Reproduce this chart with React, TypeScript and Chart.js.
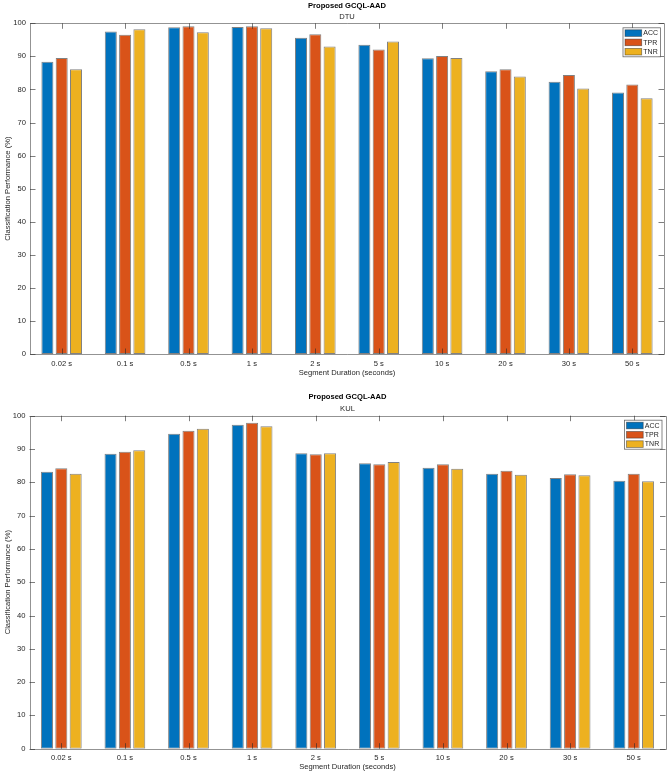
import React, { useEffect, useRef } from 'react';
import { Chart, registerables } from 'chart.js';

Chart.register(...registerables);

// ---------- data ----------
const categories = ['0.02 s', '0.1 s', '0.5 s', '1 s', '2 s', '5 s', '10 s', '20 s', '30 s', '50 s'];
const seriesNames = ['ACC', 'TPR', 'TNR'];

const dtuACC = [88.4, 97.5, 98.8, 98.9, 95.6, 93.5, 89.4, 85.5, 82.3, 79.1];
const dtuTPR = [89.5, 96.5, 99.1, 99.1, 96.7, 92.1, 90.1, 86.1, 84.4, 81.5];
const dtuTNR = [86.1, 98.2, 97.3, 98.5, 93.0, 94.5, 89.5, 83.9, 80.3, 77.3];

const kulACC = [83.2, 88.6, 94.6, 97.3, 88.7, 85.7, 84.4, 82.6, 81.3, 80.5];
const kulTPR = [84.2, 89.2, 95.5, 97.9, 88.4, 85.4, 85.4, 83.5, 82.4, 82.6];
const kulTNR = [82.6, 89.6, 96.1, 96.8, 88.7, 86.1, 84.1, 82.3, 82.1, 80.3];

const yMin = 0;
const yMax = 100;
const yStep = 10;

const mainTitle = 'Proposed GCQL-AAD';
const xTitle = 'Segment Duration (seconds)';
const yTitle = 'Classification Performance (%)';

// ---------- styles ----------
const seriesColors = ['#0072BD', '#D95319', '#EDB120'];
const FONT = '"Liberation Sans", Arial, Helvetica, sans-serif';
const TEXT = '#262626';

const PAGE_W = 669;

type Spec = {
  sub: string;
  series: number[][];
  top: number;
  canvasH: number;
  left: number;
  right: number;
  areaTop: number;
  areaBottom: number;
  titleCenter: number;
  subCenter: number;
  xTitleFromBottom: number;
};

const specs: Spec[] = [
  {
    sub: 'DTU',
    series: [dtuACC, dtuTPR, dtuTNR],
    top: 0,
    canvasH: 390,
    left: 30,
    right: 664,
    areaTop: 23.3,
    areaBottom: 354,
    titleCenter: 5.7,
    subCenter: 16.7,
    xTitleFromBottom: 16.7,
  },
  {
    sub: 'KUL',
    series: [kulACC, kulTPR, kulTNR],
    top: 390,
    canvasH: 383,
    left: 29.5,
    right: 665.5,
    areaTop: 25.7,
    areaBottom: 358.7,
    titleCenter: 7.3,
    subCenter: 19,
    xTitleFromBottom: 6,
  },
];

const boxPlugin = {
  id: 'matlabBox',
  afterDatasetsDraw(chart: any) {
    const { ctx, chartArea: a, scales } = chart;
    const tl = 5.5;
    ctx.save();
    ctx.strokeStyle = 'rgba(40,40,40,0.6)';
    ctx.lineWidth = 1;
    ctx.beginPath();
    const xs = scales.x;
    for (let i = 0; i < xs.ticks.length; i++) {
      const px = Math.round(xs.getPixelForTick(i)) + 0.5;
      ctx.moveTo(px, a.top);
      ctx.lineTo(px, a.top + tl);
      ctx.moveTo(px, a.bottom);
      ctx.lineTo(px, a.bottom - tl);
    }
    const ys = scales.y;
    for (let i = 0; i < ys.ticks.length; i++) {
      const py = Math.round(ys.getPixelForTick(i)) + 0.5;
      ctx.moveTo(a.left, py);
      ctx.lineTo(a.left + tl, py);
      ctx.moveTo(a.right, py);
      ctx.lineTo(a.right - tl, py);
    }
    ctx.stroke();
    ctx.strokeStyle = 'rgba(40,40,40,0.5)';
    ctx.beginPath();
    ctx.rect(Math.round(a.left) + 0.5, Math.round(a.top) + 0.5, Math.round(a.right - a.left), Math.round(a.bottom - a.top));
    ctx.stroke();
    ctx.restore();
  },
};

const legendPlugin = {
  id: 'insideLegend',
  afterDraw(chart: any) {
    const { ctx, chartArea: a } = chart;
    const w = 37.5;
    const h = 29;
    const x0 = a.right - 3.5 - w;
    const y0 = a.top + 4.5;
    ctx.save();
    ctx.fillStyle = '#ffffff';
    ctx.fillRect(x0, y0, w, h);
    ctx.strokeStyle = 'rgba(40,40,40,0.7)';
    ctx.lineWidth = 0.8;
    ctx.strokeRect(x0, y0, w, h);
    ctx.font = `7px ${FONT}`;
    ctx.textBaseline = 'middle';
    ctx.textAlign = 'left';
    chart.data.datasets.forEach((ds: any, i: number) => {
      const cy = y0 + 5.3 + i * 9.3;
      ctx.fillStyle = ds.backgroundColor;
      ctx.fillRect(x0 + 2, cy - 3.3, 16.7, 6.6);
      ctx.strokeStyle = 'rgba(40,40,40,0.55)';
      ctx.lineWidth = 0.8;
      ctx.strokeRect(x0 + 2, cy - 3.3, 16.7, 6.6);
      ctx.fillStyle = TEXT;
      ctx.fillText(ds.label, x0 + 20.3, cy + 0.3);
    });
    ctx.restore();
  },
};

function makeConfig(spec: Spec): any {
  const lh = 7.6 * 1.2;
  const titleTop = spec.titleCenter - lh / 2;
  const titleEnd = spec.titleCenter + lh / 2;
  const subTop = spec.subCenter - lh / 2 - titleEnd;
  const subBottom = spec.areaTop - (spec.subCenter + lh / 2);
  return {
    type: 'bar',
    data: {
      labels: categories,
      datasets: spec.series.map((d, i) => ({
        label: seriesNames[i],
        data: d,
        backgroundColor: seriesColors[i],
        borderColor: 'rgba(45,45,45,0.6)',
        borderWidth: 1,
        borderSkipped: false,
        categoryPercentage: 0.677,
        barPercentage: 0.84,
      })),
    },
    options: {
      responsive: false,
      animation: false,
      devicePixelRatio: 1,
      layout: { padding: { left: 0, right: PAGE_W - spec.right, top: 0, bottom: 0 } },
      plugins: {
        legend: { display: false },
        tooltip: { enabled: false },
        title: {
          display: true,
          fullSize: false,
          text: mainTitle,
          color: '#000',
          font: { family: FONT, size: 7.6, weight: 'bold', lineHeight: 1.2 },
          padding: { top: titleTop, bottom: 0 },
        },
        subtitle: {
          display: true,
          fullSize: false,
          text: spec.sub,
          color: TEXT,
          font: { family: FONT, size: 7.6, lineHeight: 1.2 },
          padding: { top: subTop, bottom: subBottom },
        },
      },
      scales: {
        x: {
          grid: { display: false, drawTicks: false },
          border: { display: false },
          ticks: { color: TEXT, font: { family: FONT, size: 7.6 }, padding: 5, maxRotation: 0, autoSkip: false },
          title: {
            display: true,
            text: xTitle,
            color: TEXT,
            font: { family: FONT, size: 7.6, lineHeight: 1.2 },
            padding: { top: 0, bottom: spec.xTitleFromBottom - lh / 2 },
          },
          afterFit: (s: any) => {
            s.height = spec.canvasH - spec.areaBottom;
          },
        },
        y: {
          min: yMin,
          max: yMax,
          grid: { display: false, drawTicks: false },
          border: { display: false },
          ticks: { stepSize: yStep, color: TEXT, font: { family: FONT, size: 7.6 }, padding: 4 },
          title: {
            display: true,
            text: yTitle,
            color: TEXT,
            font: { family: FONT, size: 7.6, lineHeight: 1.2 },
            padding: { top: 3.7, bottom: 0 },
          },
          afterFit: (s: any) => {
            s.width = spec.left;
          },
        },
      },
    },
    plugins: [boxPlugin, legendPlugin],
  };
}

function BarPanel({ spec }: { spec: Spec }) {
  const ref = useRef<HTMLCanvasElement | null>(null);
  useEffect(() => {
    if (!ref.current) return;
    const chart = new Chart(ref.current, makeConfig(spec));
    return () => chart.destroy();
  }, [spec]);
  return (
    <canvas
      ref={ref}
      width={PAGE_W}
      height={spec.canvasH}
      style={{ position: 'absolute', left: 0, top: spec.top, width: PAGE_W, height: spec.canvasH }}
    />
  );
}

export default function App() {
  return (
    <div style={{ position: 'absolute', left: 0, top: 0, width: PAGE_W, height: 773, background: '#fff' }}>
      {specs.map((s) => (
        <BarPanel key={s.sub} spec={s} />
      ))}
    </div>
  );
}
